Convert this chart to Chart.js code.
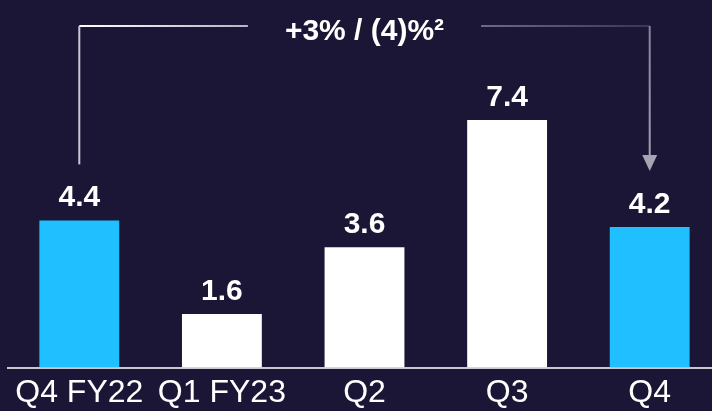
<!DOCTYPE html>
<html>
<head>
<meta charset="utf-8">
<script src="https://cdn.jsdelivr.net/npm/chart.js@4.4.0/dist/chart.umd.min.js"></script>
<style>
    html, body { margin: 0; padding: 0; background: #1b1635; overflow: hidden; width: 712px; height: 411px; }
    #caixa { position: relative; width: 721px; height: 430px; }
</style>
</head>
<body>
<div id="caixa"><canvas id="grafico"></canvas></div>
<script>
// Dados do gráfico
const categorias = ['Q4 FY22', 'Q1 FY23', 'Q2', 'Q3', 'Q4'];
const valores = [4.4, 1.6, 3.6, 7.4, 4.2];
const destaque = [true, false, false, false, true];
const textoVariacao = '+3% / (4)%²';

const FONTE = '"Liberation Sans", Arial, sans-serif';
const CIANO = '#20bfff';

// Rótulos de valor e a chave com seta entre o primeiro e o último trimestre
const pluginRotulos = {
    id: 'rotulos',
    afterDatasetsDraw(chart) {
        const c = chart.ctx;
        const barras = chart.getDatasetMeta(0).data;
        c.save();
        c.fillStyle = '#ffffff';
        c.font = 'bold 30px ' + FONTE;
        c.textAlign = 'center';
        c.textBaseline = 'alphabetic';
        barras.forEach(function(b, i) {
            c.fillText(valores[i].toFixed(1), b.x, b.y - 14);
        });

        const ini = barras[0], fim = barras[barras.length - 1];
        const yLinha = 26;
        const meio = (ini.x + fim.x) / 2;
        c.fillText(textoVariacao, meio, 40);
        const larg = c.measureText(textoVariacao).width;
        const folga = larg / 2 + 37;

        c.lineWidth = 2;
        // lado esquerdo
        let g = c.createLinearGradient(ini.x, 0, meio - folga, 0);
        g.addColorStop(0, '#ffffff');
        g.addColorStop(1, '#b4b4c4');
        c.strokeStyle = g;
        c.beginPath();
        c.moveTo(meio - folga, yLinha);
        c.lineTo(ini.x, yLinha);
        c.stroke();
        c.strokeStyle = '#c8c8d2';
        c.beginPath();
        c.moveTo(ini.x, yLinha);
        c.lineTo(ini.x, ini.y - 56);
        c.stroke();

        // lado direito
        g = c.createLinearGradient(meio + folga, 0, fim.x, 0);
        g.addColorStop(0, '#6e6a84');
        g.addColorStop(1, '#3a3552');
        c.strokeStyle = g;
        c.beginPath();
        c.moveTo(meio + folga, yLinha);
        c.lineTo(fim.x, yLinha);
        c.stroke();
        const ponta = fim.y - 56;
        g = c.createLinearGradient(0, yLinha, 0, ponta);
        g.addColorStop(0, '#86849a');
        g.addColorStop(1, '#a4a4b4');
        c.strokeStyle = g;
        c.beginPath();
        c.moveTo(fim.x, yLinha);
        c.lineTo(fim.x, ponta - 14);
        c.stroke();
        c.fillStyle = '#a4a4b4';
        c.beginPath();
        c.moveTo(fim.x - 7.5, ponta - 16);
        c.lineTo(fim.x + 7.5, ponta - 16);
        c.lineTo(fim.x, ponta);
        c.closePath();
        c.fill();
        c.restore();
    }
};

const ctx = document.getElementById('grafico').getContext('2d');
const chart = new Chart(ctx, {
    type: 'bar',
    data: {
        labels: categorias,
        datasets: [{
            data: valores,
            backgroundColor: destaque.map(d => d ? CIANO : '#ffffff'),
            borderWidth: 0,
            barPercentage: 0.56,
            categoryPercentage: 1
        }]
    },
    options: {
        responsive: true,
        maintainAspectRatio: false,
        animation: false,
        layout: { padding: { left: 8, right: 0, top: 33, bottom: 20 } },
        plugins: {
            legend: { display: false },
            title: { display: false },
            tooltip: { enabled: false }
        },
        scales: {
            x: {
                grid: { display: false },
                border: { display: true, color: '#c8c8d0', width: 2 },
                ticks: {
                    color: '#ffffff',
                    padding: -2,
                    maxRotation: 0,
                    autoSkip: false,
                    font: { family: FONTE, size: 32 }
                }
            },
            y: {
                display: false,
                min: 0,
                max: 10
            }
        }
    },
    plugins: [pluginRotulos]
});
</script>
</body>
</html>
